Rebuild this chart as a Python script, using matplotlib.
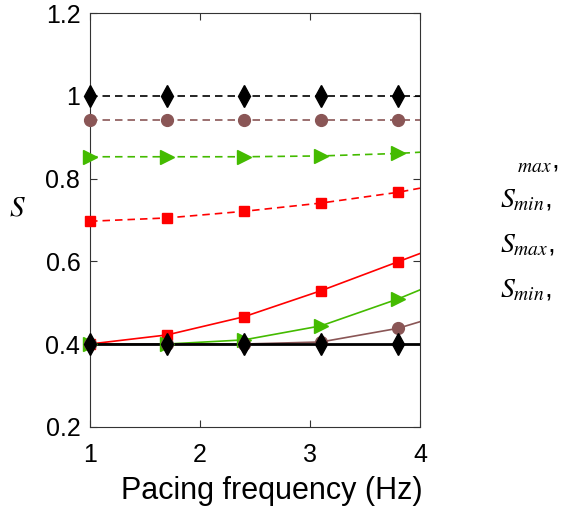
import matplotlib
matplotlib.use("Agg")
import matplotlib.pyplot as plt

plt.rcParams['font.family'] = ['Liberation Sans', 'DejaVu Sans']
plt.rcParams['mathtext.fontset'] = 'stix'

# marker positions (Hz) and line positions (marker positions + axis end)
freq_line = [1.0, 1.7, 2.4, 3.1, 3.8, 4.0]
n_mark = 5

# dashed (S_max) series
smax_black = [1.0, 1.0, 1.0, 1.0, 1.0, 1.0]
smax_brown = [0.943, 0.943, 0.943, 0.943, 0.943, 0.943]
smax_green = [0.853, 0.853, 0.853, 0.855, 0.861, 0.864]
smax_red = [0.697, 0.705, 0.721, 0.741, 0.767, 0.777]

# solid (S_min) series
smin_black = [0.4, 0.4, 0.4, 0.4, 0.4, 0.4]
smin_brown = [0.4, 0.4, 0.4, 0.405, 0.438, 0.454]
smin_green = [0.4, 0.4, 0.41, 0.444, 0.509, 0.531]
smin_red = [0.4, 0.422, 0.466, 0.529, 0.599, 0.619]

xticks = [1, 2, 3, 4]
yticks = [0.2, 0.4, 0.6, 0.8, 1.0, 1.2]
yticklabels = ['0.2', '0.4', '0.6', '0.8', '1', '1.2']

c_black = '#000000'
c_brown = '#8a5656'
c_green = '#44bb00'
c_red = '#ff0000'

fig = plt.figure(figsize=(5.64, 5.12), dpi=100)
ax = fig.add_axes([0.1596, 0.1666, 0.5851, 0.8074])

dash = (0, (4.5, 3))

def series(y, color, marker, ms, ls, lw):
    ax.plot(freq_line, y, color=color, linestyle=ls, linewidth=lw, zorder=2)
    ax.plot(freq_line[:n_mark], y[:n_mark], color=color, linestyle='none',
            marker=marker, markersize=ms, markeredgecolor=color, zorder=3,
            clip_on=False)

series(smax_red, c_red, 's', 7.5, dash, 1.2)
series(smax_green, c_green, '>', 10, dash, 1.2)
series(smax_brown, c_brown, 'o', 8.5, dash, 1.2)
series(smax_black, c_black, 'd', 11, dash, 1.2)

series(smin_red, c_red, 's', 7.5, '-', 1.2)
series(smin_green, c_green, '>', 10, '-', 1.2)
series(smin_brown, c_brown, 'o', 8.5, '-', 1.2)
series(smin_black, c_black, 'd', 11, '-', 2.0)

ax.set_xlim(1, 4)
ax.set_ylim(0.2, 1.2)
ax.set_xticks(xticks)
ax.set_yticks(yticks)
ax.set_yticklabels(yticklabels)
ax.tick_params(direction='in', top=True, right=True, labelsize=18, length=5,
               width=0.8, color='#333333', pad=7)
ax.tick_params(axis='x', pad=12)
for s in ax.spines.values():
    s.set_linewidth(0.8)
    s.set_color('#333333')

fig.text(272 / 564, 1 - 491 / 512, 'Pacing frequency (Hz)', fontsize=22,
         ha='center', va='center')
fig.text(17.5 / 564, 1 - 207 / 512, r'$S$', fontsize=21, ha='center', va='center')

# clipped legend text on the right
fig.text(517 / 564, 1 - 162 / 512, r'$_{max}$,', fontsize=20, ha='left', va='center')
fig.text(500 / 564, 1 - 200 / 512, r'$S_{min}$,', fontsize=20, ha='left', va='center')
fig.text(500 / 564, 1 - 245 / 512, r'$S_{max}$,', fontsize=20, ha='left', va='center')
fig.text(500 / 564, 1 - 290 / 512, r'$S_{min}$,', fontsize=20, ha='left', va='center')

fig.savefig('out.png', dpi=100)
